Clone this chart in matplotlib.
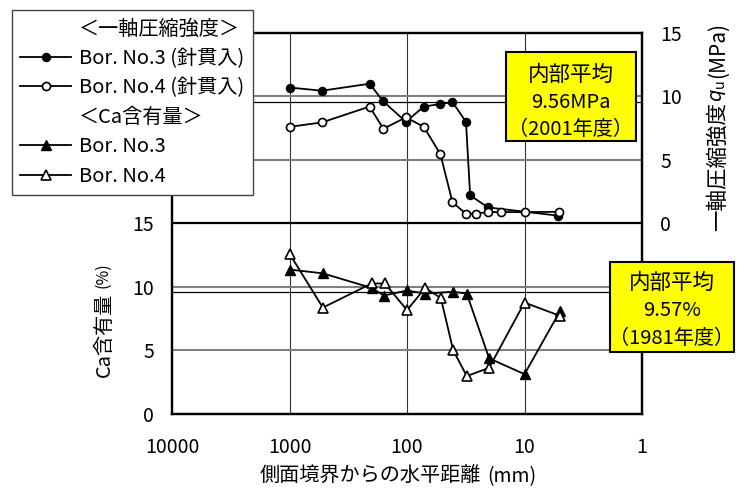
import matplotlib
matplotlib.use('Agg')
import matplotlib.pyplot as plt
from matplotlib.lines import Line2D
from matplotlib.patches import Rectangle
from matplotlib.ticker import NullLocator

plt.rcParams['font.family'] = ['Noto Sans CJK JP', 'DejaVu Sans']

# distance from side boundary (mm) and values
qu_no3_x = [1000, 530, 208, 159, 102, 72, 52, 41, 31.5, 29, 20.5, 5.2]
qu_no3 = [10.7, 10.45, 11.0, 9.6, 8.0, 9.2, 9.4, 9.55, 8.0, 2.2, 1.25, 0.6]

qu_no4_x = [1000, 530, 208, 159, 102, 72, 52, 41, 31.5, 26, 20.5, 15.7, 10, 5.1]
qu_no4 = [7.6, 7.95, 9.2, 7.45, 8.35, 7.6, 5.45, 1.65, 0.75, 0.75, 0.88, 0.88, 0.88, 0.9]

ca_no3_x = [1000, 520, 200, 157, 100, 70, 40.5, 31, 20, 10, 5]
ca_no3 = [11.35, 11.05, 9.9, 9.3, 9.7, 9.45, 9.6, 9.45, 4.35, 3.1, 8.05]

ca_no4_x = [1000, 520, 200, 154, 100, 70, 51.5, 40.5, 31, 20, 10, 5]
ca_no4 = [12.6, 8.35, 10.25, 10.25, 8.15, 9.9, 9.1, 5.0, 2.95, 3.6, 8.75, 7.7]

qu_mean = 9.56
ca_mean = 9.57

x_ticks = [10000, 1000, 100, 10, 1]
y_ticks = [0, 5, 10, 15]

W, H = 741, 491
fig = plt.figure(figsize=(W / 100, H / 100), dpi=100)


def fx(px):
    return px / W


def fy(py):
    return 1 - py / H


ax = fig.add_axes([fx(172), fy(413.5), fx(642 - 172), (413.5 - 33) / H])
ax.set_xscale('log')
ax.set_xlim(10000, 1)
ax.set_ylim(0, 30)
ax2 = ax.twinx()
ax2.set_ylim(-15, 15)

# grid
for xv in x_ticks[1:-1]:
    ax.axvline(xv, color='#333333', lw=0.8, zorder=1)
for yv in [5, 10, 20, 25]:
    ax.axhline(yv, color='#808080', lw=1.5, zorder=1)
ax.axhline(15, color='black', lw=1.6, zorder=2)
ax.axhline(ca_mean, color='black', lw=0.9, zorder=2)
ax2.axhline(qu_mean, color='black', lw=0.9, zorder=2)

lw = 1.3
ax.plot(ca_no3_x, ca_no3, color='black', lw=lw, marker='^', ms=7.5,
        mfc='black', mec='black', zorder=4)
ax.plot(ca_no4_x, ca_no4, color='black', lw=lw, marker='^', ms=7.5,
        mfc='white', mec='black', mew=1.2, zorder=5)
ax2.plot(qu_no3_x, qu_no3, color='black', lw=lw, marker='o', ms=5.8,
         mfc='black', mec='black', zorder=4)
ax2.plot(qu_no4_x, qu_no4, color='black', lw=lw, marker='o', ms=5.8,
         mfc='white', mec='black', mew=1.2, zorder=5)

for a in (ax, ax2):
    for s in a.spines.values():
        s.set_linewidth(1.6)
        s.set_color('black')

ax.set_xticks(x_ticks)
ax.set_xticklabels([str(v) for v in x_ticks])
ax.xaxis.set_minor_locator(NullLocator())
ax.set_yticks(y_ticks)
ax.set_yticklabels([str(v) for v in y_ticks])
ax2.set_yticks(y_ticks)
ax2.set_yticklabels([str(v) for v in y_ticks])
ax.tick_params(axis='x', length=0, pad=17, labelsize=14)
ax.tick_params(axis='y', length=0, pad=13, labelsize=14)
ax2.tick_params(axis='y', length=0, pad=13, labelsize=14)

# axis labels
fig.text(fx(481), fy(482), '側面境界からの水平距離', ha='right', va='baseline',
         fontsize=14.5)
fig.text(fx(487), fy(482), '(mm)', ha='left', va='baseline', fontsize=14)
fig.text(fx(104), fy(377), 'Ca含有量', ha='center', va='bottom',
         rotation=90, fontsize=14.5)
fig.text(fx(103), fy(288), '(%)', ha='center', va='bottom',
         rotation=90, fontsize=11.5)
fig.text(fx(718), fy(231), '一軸圧縮強度', ha='center', va='bottom',
         rotation=90, fontsize=15.5)
fig.text(fx(718), fy(102), '$q_{\\mathrm{u}}$', ha='center', va='bottom',
         rotation=90, fontsize=14)
fig.text(fx(718), fy(78), '(MPa)', ha='center', va='bottom',
         rotation=90, fontsize=15)

# yellow boxes
fig.add_artist(Rectangle((fx(506), fy(141)), fx(636 - 506), (141 - 52) / H,
                         transform=fig.transFigure, facecolor='#ffff00',
                         edgecolor='black', lw=1.5, zorder=6))
for t, yy, fs in zip(['内部平均', '9.56MPa', '（2001年度）'], [75, 102, 129],
                     [15.5, 14.5, 14.5]):
    fig.text(fx(571), fy(yy), t, ha='center', va='center', fontsize=fs, zorder=7)

fig.add_artist(Rectangle((fx(610), fy(352)), fx(734 - 610), (352 - 262) / H,
                         transform=fig.transFigure, facecolor='#ffff00',
                         edgecolor='black', lw=1.5, zorder=6))
for t, yy, fs in zip(['内部平均', '9.57%', '（1981年度）'], [283, 311, 338],
                     [15.5, 14.5, 14.5]):
    fig.text(fx(672), fy(yy), t, ha='center', va='center', fontsize=fs, zorder=7)

# legend
blank = Line2D([], [], color='none')
handles = [
    blank,
    Line2D([], [], color='black', lw=lw, marker='o', ms=5.8, mfc='black'),
    Line2D([], [], color='black', lw=lw, marker='o', ms=5.8, mfc='white', mew=1.2),
    blank,
    Line2D([], [], color='black', lw=lw, marker='^', ms=7.5, mfc='black'),
    Line2D([], [], color='black', lw=lw, marker='^', ms=7.5, mfc='white', mew=1.2),
]
labels = ['＜一軸圧縮強度＞', 'Bor. No.3 (針貫入)', 'Bor. No.4 (針貫入)',
          '＜Ca含有量＞', 'Bor. No.3', 'Bor. No.4']
leg = fig.legend(handles, labels, loc='upper left',
                 bbox_to_anchor=(fx(12), fy(10)), bbox_transform=fig.transFigure,
                 fontsize=14.5, frameon=True, fancybox=False, framealpha=1,
                 edgecolor='#444444', handlelength=2.5, handletextpad=0.4,
                 labelspacing=0.42, borderpad=0.42, borderaxespad=0)
leg.get_frame().set_linewidth(1.0)
leg.set_zorder(8)

fig.savefig('out.png', dpi=100)
